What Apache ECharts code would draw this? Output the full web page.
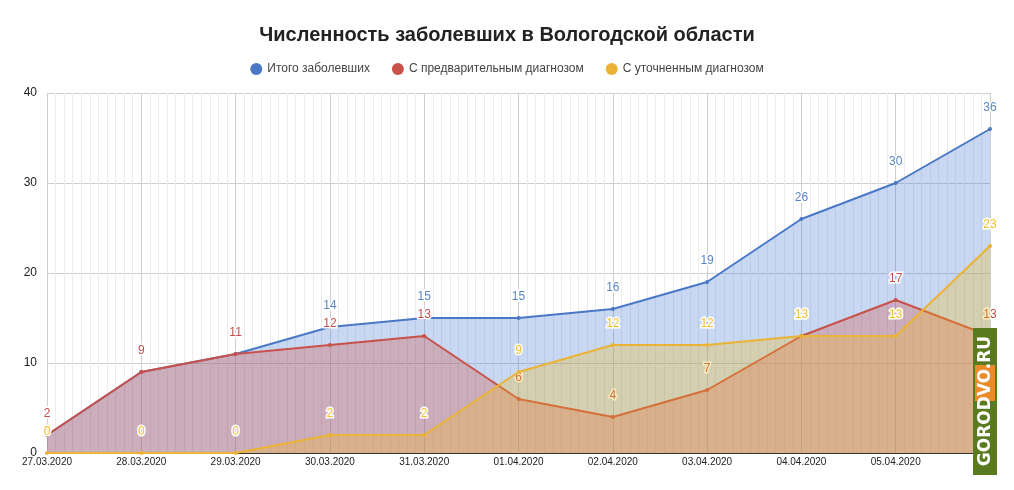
<!DOCTYPE html>
<html><head><meta charset="utf-8">
<script src="https://cdn.jsdelivr.net/npm/echarts@6/dist/echarts.min.js"></script>
<style>html,body{margin:0;padding:0;background:#fff}#c{width:1014px;height:490px}</style>
</head><body><div id="c"></div>
<script>
const dates = ['27.03.2020','28.03.2020','29.03.2020','30.03.2020','31.03.2020','01.04.2020','02.04.2020','03.04.2020','04.04.2020','05.04.2020','06.04.2020'];
const total = [2, 9, 11, 14, 15, 15, 16, 19, 26, 30, 36];
const prelim = [2, 9, 11, 12, 13, 6, 4, 7, 13, 17, 13];
const confirmed = [0, 0, 0, 2, 2, 9, 12, 12, 13, 13, 23];
const names = ['Итого заболевших', 'С предварительным диагнозом', 'С уточненным диагнозом'];
const yTicks = [0, 10, 20, 30, 40];

const colors = ['#4a7fd6', '#d4483c', '#f1b81a'];
const lineColors = ['#4a78c6', '#c8514a', '#eab334'];
const labelColors = ['#5a86c4', '#c0504d', '#f0c030'];
const font = 'Liberation Sans, Arial, sans-serif';

function mk(i, arr) {
  return {
    name: names[i], type: 'line',
    data: arr.map((v, k) => [k, v]),
    symbol: 'circle', symbolSize: 4, showSymbol: true,
    lineStyle: { width: 2, color: lineColors[i] },
    itemStyle: { color: lineColors[i] },
    areaStyle: { color: colors[i], opacity: 0.3 },
    label: {
      show: true, position: 'top', distance: 13,
      color: labelColors[i], fontSize: 12, fontFamily: font,
      textBorderColor: '#fff', textBorderWidth: 3,
      formatter: p => p.value[1]
    },
    z: 2 + i
  };
}

const chart = echarts.init(document.getElementById('c'));
chart.setOption({
  animation: false,
  color: colors,
  title: {
    text: 'Численность заболевших в Вологодской области',
    left: 'center', top: 20,
    textStyle: { fontFamily: font, fontSize: 20, fontWeight: 'bold', color: '#222' }
  },
  legend: {
    top: 58, left: 'center', icon: 'circle', itemWidth: 12, itemHeight: 12, itemGap: 22,
    textStyle: { fontFamily: font, fontSize: 12, color: '#444' },
    data: names
  },
  grid: { left: 47, right: 24, top: 93, bottom: 37, containLabel: false },
  xAxis: {
    type: 'value', min: 0, max: dates.length - 1, interval: 1,
    axisLine: { show: true, onZero: false, lineStyle: { color: '#333', width: 1 } },
    axisTick: { show: false },
    axisLabel: {
      fontFamily: font, fontSize: 10, color: '#222', margin: 4,
      formatter: v => (v < dates.length - 1 ? dates[v] : ''),
      showMaxLabel: true, showMinLabel: true
    },
    splitLine: { show: true, lineStyle: { color: '#cfcfcf' } },
    minorTick: { show: false, splitNumber: 11 },
    minorSplitLine: { show: true, lineStyle: { color: '#ececec' } }
  },
  yAxis: {
    type: 'value', min: yTicks[0], max: yTicks[yTicks.length - 1], interval: 10,
    axisLine: { show: false }, axisTick: { show: false },
    axisLabel: { fontFamily: font, fontSize: 12, color: '#222', margin: 10 },
    splitLine: { lineStyle: { color: '#cfcfcf' } }
  },
  series: [mk(0, total), mk(1, prelim), mk(2, confirmed)],
  graphic: [
    { type: 'rect', shape: { x: 973, y: 328, width: 24, height: 147 }, style: { fill: '#5a7a20' }, z: 100 },
    { type: 'rect', shape: { x: 975, y: 365, width: 20, height: 36 }, style: { fill: '#e98a2b' }, z: 101 },
    {
      type: 'text', x: 986, y: 401, rotation: Math.PI / 2, z: 102,
      style: {
        text: 'GORODVO.RU', fill: '#fff', fontFamily: 'DejaVu Sans, sans-serif',
        fontWeight: 'bold', fontSize: 17, align: 'center', verticalAlign: 'middle'
      }
    }
  ]
});
</script></body></html>
